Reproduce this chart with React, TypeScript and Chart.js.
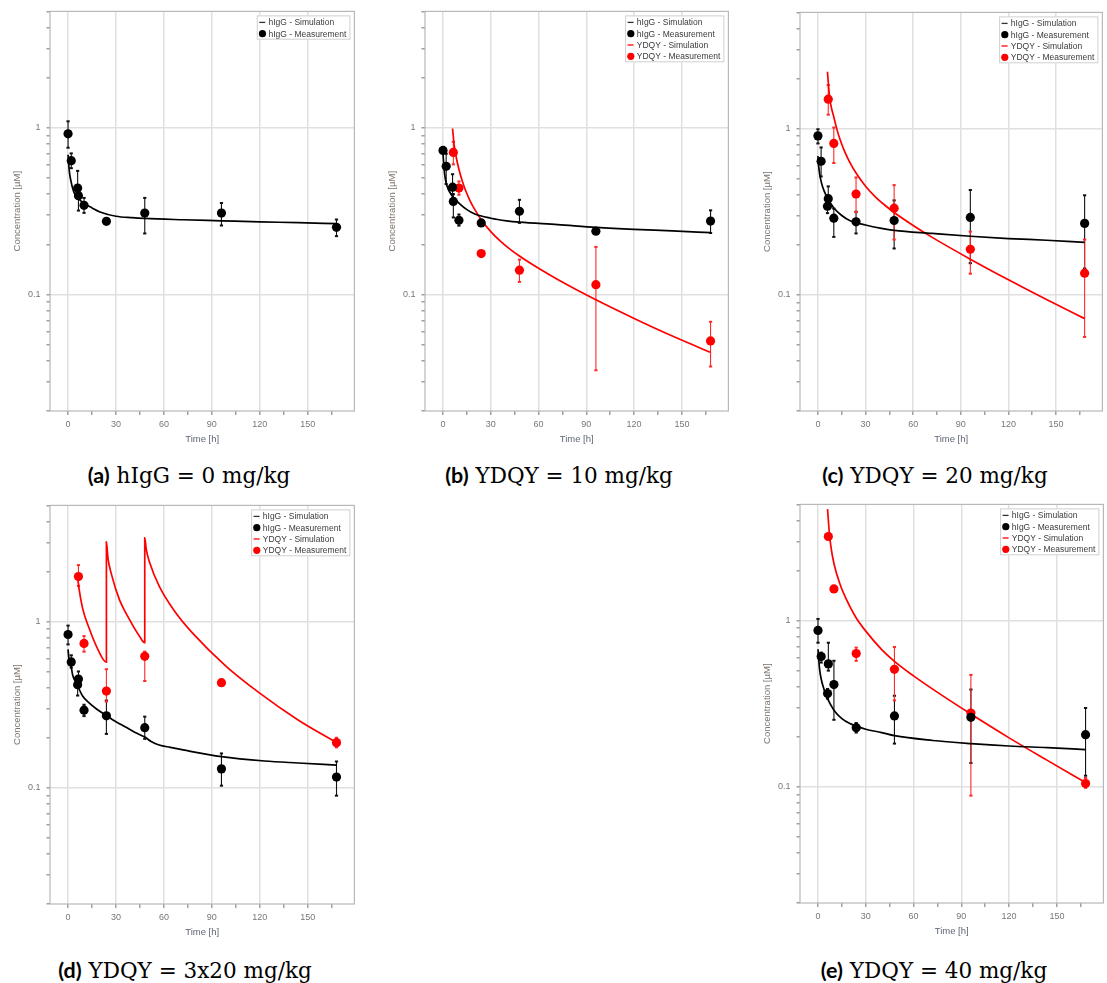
import React, { useEffect, useRef } from 'react';
import { Chart, registerables } from 'chart.js';

Chart.register(...registerables);

// ---------- Panel (a): hIgG = 0 mg/kg ----------
const aMeasT = [0, 2, 6, 6.5, 10, 24, 48, 96, 168];
const aHigG = [0.921, 0.636, 0.435, 0.392, 0.343, 0.275, 0.308, 0.308, 0.253];
const aHigGHi = [1.095, 0.703, 0.552, 0.43, 0.38, null, 0.38, 0.354, 0.282];
const aHigGLo = [0.76, 0.573, 0.4, 0.319, 0.309, null, 0.2325, 0.2596, 0.224];
const aSimT = [0, 0.5, 1, 2, 3, 4, 6, 8, 10, 15, 20, 30, 40, 48, 72, 96, 120, 144, 168];
const aSimHigG = [0.69, 0.59, 0.53, 0.47, 0.43, 0.405, 0.38, 0.365, 0.352, 0.331, 0.313, 0.295, 0.289, 0.286, 0.281, 0.277, 0.273, 0.27, 0.266];

// ---------- Panel (b): YDQY = 10 mg/kg ----------
const bMeasT = [0, 2, 6, 6.5, 10, 24, 48, 96, 168];
const bHigG = [0.732, 0.588, 0.441, 0.362, 0.279, 0.269, 0.316, 0.24, 0.276];
const bHigGHi = [null, 0.7, 0.527, 0.4, 0.302, null, 0.37, 0.25, 0.32];
const bHigGLo = [null, 0.46, 0.4, 0.29, 0.259, null, 0.269, 0.232, 0.234];
const bYdqyT = [6.5, 10, 24, 48, 96, 168];
const bYdqy = [0.712, 0.435, 0.176, 0.14, 0.1146, 0.0527];
const bYdqyHi = [0.825, 0.477, null, 0.162, 0.193, 0.0686];
const bYdqyLo = [0.604, 0.397, null, 0.119, 0.0351, 0.037];
const bSimT = [0, 0.5, 1, 2, 3, 4, 6, 8, 10, 15, 20, 30, 40, 48, 72, 96, 120, 144, 168];
const bSimHigG = [0.703, 0.6, 0.53, 0.466, 0.435, 0.415, 0.388, 0.37, 0.354, 0.323, 0.304, 0.287, 0.277, 0.272, 0.263, 0.253, 0.246, 0.241, 0.235];
const bSimYdqyT = [6, 7, 8, 10, 12, 14, 17, 20, 24, 30, 36, 42, 48, 60, 72, 96, 120, 144, 168];
const bSimYdqy = [0.991, 0.792, 0.69, 0.564, 0.483, 0.425, 0.365, 0.323, 0.281, 0.2385, 0.2092, 0.1874, 0.1702, 0.1436, 0.1231, 0.093, 0.0719, 0.0564, 0.045];

// ---------- Panel (c): YDQY = 20 mg/kg ----------
const cMeasT = [0, 2, 6.5, 6, 10, 24, 48, 96, 168];
const cHigG = [0.904, 0.636, 0.379, 0.341, 0.289, 0.275, 0.28, 0.292, 0.269];
const cHigGHi = [0.991, 0.77, 0.449, 0.36, 0.33, 0.316, 0.37, 0.427, 0.397];
const cHigGLo = [0.814, 0.515, 0.36, 0.31, 0.223, 0.234, 0.19, 0.155, 0.144];
const cYdqyT = [6.5, 10, 24, 48, 96, 168];
const cYdqy = [1.503, 0.814, 0.404, 0.332, 0.188, 0.135];
const cYdqyHi = [1.83, 1.014, 0.508, 0.457, 0.24, 0.215];
const cYdqyLo = [1.212, 0.621, 0.314, 0.215, 0.134, 0.0558];
const cSimT = [0, 0.5, 1, 2, 3, 4, 6, 8, 10, 15, 20, 30, 40, 48, 72, 96, 120, 144, 168];
const cSimHigG = [0.684, 0.59, 0.539, 0.481, 0.445, 0.419, 0.382, 0.355, 0.333, 0.3, 0.28, 0.263, 0.251, 0.244, 0.234, 0.225, 0.218, 0.213, 0.207];
const cSimYdqyT = [6, 7, 8, 10, 12, 14, 17, 20, 24, 30, 36, 42, 48, 60, 72, 96, 120, 144, 168];
const cSimYdqy = [2.198, 1.67, 1.409, 1.174, 0.986, 0.856, 0.721, 0.628, 0.54, 0.45, 0.39, 0.347, 0.313, 0.2615, 0.2216, 0.1638, 0.1231, 0.0936, 0.0719];

// ---------- Panel (d): YDQY = 3x20 mg/kg ----------
const dMeasT = [0, 2, 6.5, 6, 10, 24, 48, 96, 168];
const dHigG = [0.836, 0.572, 0.451, 0.417, 0.293, 0.271, 0.23, 0.13, 0.116];
const dHigGHi = [0.946, 0.627, 0.501, 0.44, 0.316, 0.335, 0.268, 0.161, 0.144];
const dHigGLo = [0.729, 0.529, 0.43, 0.359, 0.27, 0.211, 0.197, 0.103, 0.0897];
const dYdqyT = [6.5, 10, 24, 48, 96, 168];
const dYdqy = [1.865, 0.739, 0.382, 0.618, 0.429, 0.187];
const dYdqyHi = [2.187, 0.818, 0.517, 0.66, 0.44, 0.2];
const dYdqyLo = [1.639, 0.659, 0.33, 0.439, 0.42, 0.175];
const dSimT = [0, 0.5, 1, 2, 3, 5, 9, 13, 17.6, 24, 30, 36, 42, 48, 52, 57, 64, 72, 96, 123, 144, 168];
const dSimHigG = [0.68, 0.6, 0.56, 0.53, 0.472, 0.431, 0.358, 0.325, 0.299, 0.272, 0.25, 0.232, 0.215, 0.202, 0.19, 0.181, 0.175, 0.169, 0.154, 0.145, 0.141, 0.137];
const dSimYdqyT = [6, 7, 9.3, 13.5, 17.7, 24, 24, 25, 27, 32.2, 38.4, 44.6, 48, 48, 49, 50.9, 57.1, 67.5, 77.8, 98.6, 119.3, 144.2, 168];
const dSimYdqy = [1.85, 1.55, 1.18, 0.896, 0.713, 0.57, 3.02, 2.4, 1.95, 1.35, 1.03, 0.818, 0.746, 3.19, 2.7, 2.29, 1.63, 1.127, 0.856, 0.542, 0.375, 0.255, 0.187];

// ---------- Panel (e): YDQY = 40 mg/kg ----------
const eMeasT = [0, 2, 6.5, 6, 10, 24, 48, 96, 168];
const eHigG = [0.872, 0.608, 0.549, 0.364, 0.412, 0.227, 0.267, 0.262, 0.206];
const eHigGHi = [1.023, 0.642, 0.736, 0.388, 0.573, 0.242, 0.353, 0.385, 0.298];
const eHigGLo = [0.736, 0.559, 0.5, 0.339, 0.253, 0.212, 0.182, 0.139, 0.1166];
const eYdqyT = [6.5, 10, 24, 48, 96, 168];
const eYdqy = [3.205, 1.55, 0.633, 0.509, 0.278, 0.1047];
const eYdqyHi = [null, null, 0.688, 0.694, 0.471, 0.113];
const eYdqyLo = [null, null, 0.573, 0.331, 0.0885, 0.0986];
const eSimT = [0, 0.5, 1, 2, 4, 6, 10, 15, 20, 24, 30, 40, 48, 72, 96, 120, 144, 168];
const eSimHigG = [0.672, 0.58, 0.511, 0.445, 0.38, 0.339, 0.289, 0.257, 0.24, 0.232, 0.222, 0.212, 0.203, 0.19, 0.182, 0.176, 0.172, 0.1676];
const eSimYdqyT = [6, 7, 8, 10, 14, 20, 24, 30, 40, 48, 60, 72, 96, 120, 144, 168];
const eSimYdqy = [4.685, 3.48, 2.834, 2.204, 1.638, 1.217, 1.037, 0.864, 0.669, 0.569, 0.465, 0.387, 0.274, 0.197, 0.1442, 0.1061];

// ---------- Axes ----------
const xTicks = [0, 15, 30, 45, 60, 75, 90, 105, 120, 135, 150, 165];
const xMin = -11.3;
const xMax = 179.2;
const yTicks = [0.02, 0.03, 0.04, 0.05, 0.06, 0.07, 0.08, 0.09, 0.1, 0.2, 0.3, 0.4, 0.5, 0.6, 0.7, 0.8, 0.9, 1, 2, 3, 4, 5];
const yLabelled = [0.1, 1];
const yMin = 0.02;
const yMax = 5;

const legendHigG = ['hIgG - Simulation', 'hIgG - Measurement'];
const legendYdqy = ['YDQY - Simulation', 'YDQY - Measurement'];

const BLACK = '#000000';
const RED = '#ff0000';

const pts = (t: number[], v: number[]) => t.map((x, i) => ({ x, y: v[i] }));

function measSet(t: number[], v: number[], hi: (number | null)[], lo: (number | null)[], color: string, errColor: string) {
  return {
    data: pts(t, v),
    showLine: false,
    pointRadius: 4.6,
    pointBorderWidth: 0,
    pointBackgroundColor: color,
    pointBorderColor: color,
    borderColor: color,
    backgroundColor: color,
    errHi: hi,
    errLo: lo,
    errColor,
  };
}

function simSet(t: number[], v: number[], color: string) {
  return {
    data: pts(t, v),
    showLine: true,
    pointRadius: 0,
    borderWidth: 1.7,
    borderColor: color,
    backgroundColor: color,
    cubicInterpolationMode: 'monotone',
    fill: false,
  };
}

const errorBarPlugin = {
  id: 'errorBars',
  beforeDatasetsDraw(chart: any) {
    const { ctx, scales } = chart;
    const xs = scales.x;
    const ys = scales.y;
    chart.data.datasets.forEach((ds: any) => {
      if (!ds.errHi) return;
      ctx.save();
      ctx.strokeStyle = ds.errColor;
      ds.data.forEach((p: any, i: number) => {
        const px = xs.getPixelForValue(p.x);
        const py = ys.getPixelForValue(p.y);
        const ends = [ds.errHi[i], ds.errLo[i]];
        ends.forEach((e: number | null) => {
          if (e == null) return;
          const ey = ys.getPixelForValue(e);
          ctx.lineWidth = 1.1;
          ctx.beginPath();
          ctx.moveTo(px, py);
          ctx.lineTo(px, ey);
          ctx.stroke();
          ctx.lineWidth = 2;
          ctx.beginPath();
          ctx.moveTo(px - 1.6, ey);
          ctx.lineTo(px + 1.6, ey);
          ctx.stroke();
        });
      });
      ctx.restore();
    });
  },
};

const frameLegendPlugin = {
  id: 'frameLegend',
  beforeDatasetsDraw(chart: any) {
    const { ctx, chartArea } = chart;
    ctx.save();
    ctx.strokeStyle = '#b8b8b8';
    ctx.lineWidth = 1.2;
    ctx.strokeRect(chartArea.left, chartArea.top, chartArea.right - chartArea.left, chartArea.bottom - chartArea.top);
    ctx.restore();
  },
  afterDraw(chart: any) {
    const opts = chart.options.plugins.frameLegend;
    if (!opts || !opts.items) return;
    const { ctx, chartArea } = chart;
    const items = opts.items as { label: string; kind: string; color: string }[];
    ctx.save();
    ctx.font = '8.5px "Liberation Sans", Arial, sans-serif';
    let maxW = 0;
    items.forEach((it) => {
      maxW = Math.max(maxW, ctx.measureText(it.label).width);
    });
    const rowH = 11.3;
    const w = 11.7 + maxW + 4;
    const h = 7 + (items.length - 1) * rowH + 6;
    const right = chartArea.right - 4;
    const left = right - w;
    const top = chartArea.top + 4;
    ctx.fillStyle = '#ffffff';
    ctx.fillRect(left, top, w, h);
    ctx.strokeStyle = '#d0d0d0';
    ctx.lineWidth = 1;
    ctx.strokeRect(left + 0.5, top + 0.5, w - 1, h - 1);
    items.forEach((it, i) => {
      const cy = top + 7 + i * rowH;
      if (it.kind === 'line') {
        ctx.strokeStyle = it.color === BLACK ? '#333333' : it.color;
        ctx.lineWidth = 1.3;
        ctx.beginPath();
        ctx.moveTo(left + 2.5, cy);
        ctx.lineTo(left + 8.5, cy);
        ctx.stroke();
      } else {
        ctx.fillStyle = it.color;
        ctx.beginPath();
        ctx.arc(left + 5.7, cy, 3.6, 0, Math.PI * 2);
        ctx.fill();
      }
      ctx.fillStyle = '#3a3a3a';
      ctx.textBaseline = 'middle';
      ctx.textAlign = 'left';
      ctx.fillText(it.label, left + 11.7, cy + 0.5);
    });
    ctx.restore();
  },
};

type PanelDef = {
  L: number;
  T: number;
  R: number;
  B: number;
  datasets: any[];
  legend: { label: string; kind: string; color: string }[];
  letter: string;
  text: string;
  capCenter: number;
  capBaseline: number;
};

const legendItems = (withYdqy: boolean) => {
  const items = [
    { label: legendHigG[0], kind: 'line', color: BLACK },
    { label: legendHigG[1], kind: 'dot', color: BLACK },
  ];
  if (withYdqy) {
    items.push({ label: legendYdqy[0], kind: 'line', color: RED });
    items.push({ label: legendYdqy[1], kind: 'dot', color: RED });
  }
  return items;
};

const panels: PanelDef[] = [
  {
    L: 50, T: 8, R: 356, B: 411,
    datasets: [
      measSet(aMeasT, aHigG, aHigGHi, aHigGLo, BLACK, '#111111'),
      simSet(aSimT, aSimHigG, BLACK),
    ],
    legend: legendItems(false),
    letter: '(a)', text: 'hIgG = 0 mg/kg', capCenter: 189, capBaseline: 482,
  },
  {
    L: 425, T: 8, R: 730, B: 411,
    datasets: [
      measSet(bMeasT, bHigG, bHigGHi, bHigGLo, BLACK, '#111111'),
      measSet(bYdqyT, bYdqy, bYdqyHi, bYdqyLo, RED, '#ff2a2a'),
      simSet(bSimT, bSimHigG, BLACK),
      simSet(bSimYdqyT, bSimYdqy, RED),
    ],
    legend: legendItems(true),
    letter: '(b)', text: 'YDQY = 10 mg/kg', capCenter: 559, capBaseline: 482,
  },
  {
    L: 800, T: 9, R: 1104, B: 411,
    datasets: [
      measSet(cMeasT, cHigG, cHigGHi, cHigGLo, BLACK, '#111111'),
      measSet(cYdqyT, cYdqy, cYdqyHi, cYdqyLo, RED, '#ff2a2a'),
      simSet(cSimT, cSimHigG, BLACK),
      simSet(cSimYdqyT, cSimYdqy, RED),
    ],
    legend: legendItems(true),
    letter: '(c)', text: 'YDQY = 20 mg/kg', capCenter: 935, capBaseline: 482,
  },
  {
    L: 50, T: 502, R: 356, B: 904,
    datasets: [
      measSet(dMeasT, dHigG, dHigGHi, dHigGLo, BLACK, '#111111'),
      measSet(dYdqyT, dYdqy, dYdqyHi, dYdqyLo, RED, '#ff2a2a'),
      simSet(dSimT, dSimHigG, BLACK),
      simSet(dSimYdqyT, dSimYdqy, RED),
    ],
    legend: legendItems(true),
    letter: '(d)', text: 'YDQY = 3x20 mg/kg', capCenter: 185, capBaseline: 977,
  },
  {
    L: 800, T: 501, R: 1105, B: 903,
    datasets: [
      measSet(eMeasT, eHigG, eHigGHi, eHigGLo, BLACK, '#111111'),
      measSet(eYdqyT, eYdqy, eYdqyHi, eYdqyLo, RED, '#ff2a2a'),
      simSet(eSimT, eSimHigG, BLACK),
      simSet(eSimYdqyT, eSimYdqy, RED),
    ],
    legend: legendItems(true),
    letter: '(e)', text: 'YDQY = 40 mg/kg', capCenter: 934, capBaseline: 977,
  },
];

const PAD_TOP = 8;
const PAD_RIGHT = 3;
const Y_AXIS_W = 50;
const X_AXIS_H = 40;

function PanelChart({ p }: { p: PanelDef }) {
  const ref = useRef<HTMLCanvasElement | null>(null);
  const width = p.R - p.L + Y_AXIS_W + PAD_RIGHT;
  const height = p.B - p.T + PAD_TOP + X_AXIS_H;

  useEffect(() => {
    if (!ref.current) return;
    const chart = new Chart(ref.current, {
      type: 'line',
      data: { datasets: p.datasets as any },
      plugins: [errorBarPlugin, frameLegendPlugin],
      options: {
        responsive: false,
        animation: false,
        events: [],
        devicePixelRatio: 1,
        layout: { padding: { top: PAD_TOP, right: PAD_RIGHT, left: 0, bottom: 0 } },
        plugins: {
          legend: { display: false },
          tooltip: { enabled: false },
          frameLegend: { items: p.legend },
        } as any,
        scales: {
          x: {
            type: 'linear',
            min: xMin,
            max: xMax,
            afterBuildTicks: (axis: any) => {
              axis.ticks = xTicks.map((v) => ({ value: v }));
            },
            afterFit: (scale: any) => {
              scale.height = X_AXIS_H;
            },
            border: { display: false },
            grid: {
              color: (ctx: any) => (ctx.tick && ctx.tick.value % 30 === 0 ? '#e0e0e0' : 'rgba(0,0,0,0)'),
              lineWidth: 1.5,
              tickColor: '#a0a0a0',
              tickLength: 4,
              drawTicks: true,
            },
            ticks: {
              autoSkip: false,
              maxRotation: 0,
              padding: 4,
              color: '#777777',
              font: { size: 9, family: '"Liberation Sans", Arial, sans-serif' },
              callback: (v: any) => (Number(v) % 30 === 0 ? String(v) : ''),
            },
            title: {
              display: true,
              text: 'Time [h]',
              color: '#5f6675',
              font: { size: 9.5, family: '"Liberation Sans", Arial, sans-serif' },
              padding: { top: 0, bottom: 6.3 },
            },
          },
          y: {
            type: 'logarithmic',
            min: yMin,
            max: yMax,
            afterBuildTicks: (axis: any) => {
              axis.ticks = yTicks.map((v) => ({ value: v }));
            },
            afterFit: (scale: any) => {
              scale.width = Y_AXIS_W;
            },
            border: { display: false },
            grid: {
              color: (ctx: any) => (ctx.tick && yLabelled.includes(ctx.tick.value) ? '#e0e0e0' : 'rgba(0,0,0,0)'),
              lineWidth: 1.5,
              tickColor: '#a0a0a0',
              tickLength: 3.5,
              drawTicks: true,
            },
            ticks: {
              autoSkip: false,
              padding: 6,
              color: '#777777',
              font: { size: 9, family: '"Liberation Sans", Arial, sans-serif' },
              callback: (v: any) => (yLabelled.includes(Number(v)) ? String(v) : ''),
            },
            title: {
              display: true,
              text: 'Concentration [µM]',
              color: '#7c736b',
              font: { size: 9.5, family: '"Liberation Sans", Arial, sans-serif' },
              padding: { top: 11.3, bottom: 0 },
            },
          },
        },
      } as any,
    });
    return () => chart.destroy();
  }, [p]);

  return (
    <>
      <canvas
        ref={ref}
        width={width}
        height={height}
        style={{ position: 'absolute', left: p.L - Y_AXIS_W, top: p.T - PAD_TOP, width, height }}
      />
      <div
        style={{
          position: 'absolute',
          left: p.capCenter - 200,
          width: 400,
          top: p.capBaseline - 20.5,
          textAlign: 'center',
          fontFamily: '"DejaVu Serif", serif',
          fontSize: 21.5,
          lineHeight: '26px',
          whiteSpace: 'nowrap',
          color: '#000',
        }}
      >
        <span style={{ fontFamily: 'Lato, "Open Sans", sans-serif', fontWeight: 700 }}>{p.letter}</span> {p.text}
      </div>
    </>
  );
}

export default function App() {
  return (
    <div style={{ position: 'absolute', left: 0, top: 0, width: 1107, height: 983, background: '#ffffff' }}>
      {panels.map((p, i) => (
        <PanelChart key={i} p={p} />
      ))}
    </div>
  );
}
